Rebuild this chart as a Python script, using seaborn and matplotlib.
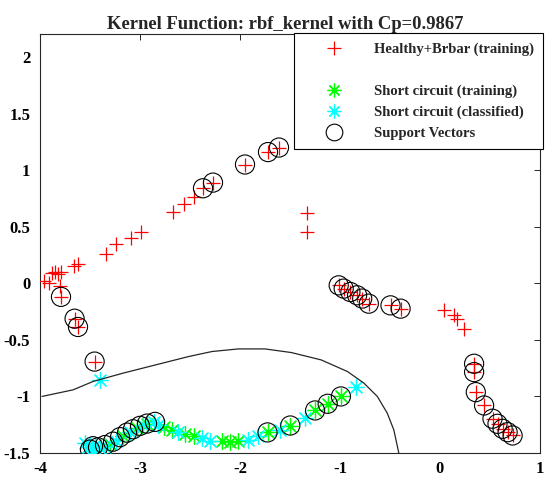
import numpy as np
import pandas as pd
import matplotlib
matplotlib.use("Agg")
import matplotlib.pyplot as plt
from matplotlib.lines import Line2D
from matplotlib.markers import MarkerStyle
import seaborn as sns

# ---------------- data ----------------
title = "Kernel Function: rbf_kernel with Cp=0.9867"
labels = ["Healthy+Brbar (training)", " ", "Short circuit (training)",
          "Short circuit (classified)", "Support Vectors"]

healthy_x = [-3.96, -3.91, -3.88, -3.85, -3.82, -3.79, -3.80, -3.66, -3.62,
             -3.34, -3.24, -3.09, -2.99, -2.67, -2.56, -2.46, -2.37, -2.27,
             -1.95, -1.72, -1.61, -1.33, -1.33,
             -3.79, -3.654, -3.62, -3.454,
             -1.013, -0.963, -0.896, -0.829, -0.778, -0.712, -0.495, -0.394,
             0.04, 0.14, 0.174, 0.24,
             0.341, 0.341, 0.358, 0.441, 0.525, 0.575, 0.626, 0.676, 0.726]
healthy_y = [0.02, 0.00, 0.09, 0.10, 0.08, 0.10, -0.02, 0.15, 0.17,
             0.26, 0.35, 0.40, 0.45, 0.63, 0.70, 0.76, 0.84, 0.89,
             1.05, 1.16, 1.20, 0.62, 0.45,
             -0.12, -0.313, -0.386, -0.692,
             -0.018, -0.047, -0.077, -0.106, -0.135, -0.18, -0.195, -0.224,
             -0.239, -0.283, -0.312, -0.40,
             -0.711, -0.785, -0.962, -1.08, -1.197, -1.242, -1.286, -1.316, -1.345]

sc_train_x = [-3.30, -3.17, -3.03, -2.93, -2.76, -2.68, -2.55, -2.46, -2.18,
              -2.10, -2.02, -1.725, -1.497, -1.249, -1.123, -0.991]
sc_train_y = [-1.42, -1.35, -1.28, -1.24, -1.27, -1.295, -1.33, -1.353, -1.397,
              -1.403, -1.39, -1.318, -1.257, -1.124, -1.065, -1.0]

sc_class_x = [-3.405, -3.55, -3.52, -3.48, -3.45, -3.40, -3.35, -3.24, -3.10,
              -2.97, -2.86, -2.82, -2.62, -2.38, -2.297, -1.917, -1.817, -1.60,
              -1.354, -0.842]
sc_class_y = [-0.853, -1.41, -1.45, -1.48, -1.43, -1.46, -1.45, -1.39, -1.31,
              -1.25, -1.23, -1.25, -1.31, -1.368, -1.397, -1.383, -1.353, -1.295,
              -1.192, -0.918]

sv_x = [-3.79, -3.654, -3.62, -3.454, -2.37, -2.27, -1.95, -1.72, -1.61,
        -1.013, -0.963, -0.896, -0.829, -0.778, -0.712, -0.495, -0.394,
        0.341, 0.341, 0.358, 0.441, 0.525, 0.575, 0.626, 0.676, 0.726,
        -0.991, -1.123, -1.249, -1.497, -1.725,
        -2.85, -2.93, -3.00, -3.07, -3.13, -3.20, -3.27, -3.35, -3.42, -3.50, -3.47]
sv_y = [-0.12, -0.313, -0.386, -0.692, 0.84, 0.89, 1.05, 1.16, 1.20,
        -0.018, -0.047, -0.077, -0.106, -0.135, -0.18, -0.195, -0.224,
        -0.711, -0.785, -0.962, -1.08, -1.197, -1.242, -1.286, -1.316, -1.345,
        -1.0, -1.065, -1.124, -1.257, -1.318,
        -1.225, -1.24, -1.26, -1.29, -1.32, -1.36, -1.40, -1.43, -1.45, -1.47, -1.44]

boundary_x = [-3.98, -3.67, -3.47, -3.173, -2.843, -2.512, -2.28, -2.016, -1.751,
              -1.487, -1.189, -0.925, -0.76, -0.627, -0.528, -0.462, -0.412]
boundary_y = [-1.0, -0.942, -0.868, -0.795, -0.721, -0.647, -0.603, -0.58, -0.58,
              -0.612, -0.677, -0.78, -0.883, -1.0, -1.147, -1.295, -1.5]

xticks = [-4, -3, -2, -1, 0, 1]
yticks = [-1.5, -1, -0.5, 0, 0.5, 1, 1.5, 2]

# ---------------- style ----------------
sns.set_style("white")
plt.rcParams['font.family'] = ['Liberation Serif', 'DejaVu Serif']
plt.rcParams['axes.unicode_minus'] = False
plt.rcParams['lines.linewidth'] = 0.8

fig = plt.figure(figsize=(5.45, 4.8), dpi=100)
ax = fig.add_axes([40 / 545, 27 / 480, 500 / 545, 418.6 / 480])

dark = "#262626"
star = MarkerStyle((8, 2, 0))
ring = MarkerStyle('o', fillstyle='none')

df_h = pd.DataFrame({"x": healthy_x, "y": healthy_y})
df_t = pd.DataFrame({"x": sc_train_x, "y": sc_train_y})
df_c = pd.DataFrame({"x": sc_class_x, "y": sc_class_y})
df_s = pd.DataFrame({"x": sv_x, "y": sv_y})
df_b = pd.DataFrame({"x": boundary_x, "y": boundary_y})

sns.scatterplot(data=df_h, x="x", y="y", marker='+', color='red', s=110,
                linewidth=0.9, ax=ax, legend=False, zorder=3)
sns.scatterplot(data=df_t, x="x", y="y", marker=star, color='#00ff00', s=125,
                linewidth=0.9, ax=ax, legend=False, zorder=3)
sns.scatterplot(data=df_c, x="x", y="y", marker=star, color='cyan', s=125,
                linewidth=0.9, ax=ax, legend=False, zorder=3)
sns.scatterplot(data=df_s, x="x", y="y", marker=ring, color='black', s=190,
                linewidth=0.8, ax=ax, legend=False, zorder=4)
sns.lineplot(data=df_b, x="x", y="y", sort=False, color=dark, linewidth=0.9,
             ax=ax, legend=False, zorder=5)

ax.set_xlim(-4, 1)
ax.set_ylim(-1.5, 2.2)
ax.set_xticks(xticks)
ax.set_yticks(yticks)
ax.set_xticklabels([f"{v:g}" for v in xticks])
ax.set_yticklabels([f"{v:g}" for v in yticks])
ax.set_xlabel("")
ax.set_ylabel("")
ax.tick_params(direction='in', length=4, width=0.7, top=True, right=True,
               colors=dark, labelsize=12, labelcolor='black')
ax.tick_params(axis='y', pad=7)
ax.tick_params(axis='x', pad=6)
for lab in ax.get_xticklabels() + ax.get_yticklabels():
    lab.set_fontweight('bold')
for sp in ax.spines.values():
    sp.set_color(dark)
    sp.set_linewidth(0.8)

ax.set_title(title, fontsize=13.4, fontweight='bold', pad=4, x=0.49)

handles = [
    Line2D([], [], ls='none', marker='+', color='red', markersize=10, mew=0.9),
    Line2D([], [], ls='none', marker=None, color='none'),
    Line2D([], [], ls='none', marker=(8, 2, 0), color='#00ff00', markersize=10, mew=0.9),
    Line2D([], [], ls='none', marker=(8, 2, 0), color='cyan', markersize=10, mew=0.9),
    Line2D([], [], ls='none', marker='o', mfc='none', mec='black', markersize=12, mew=0.8),
]
leg = ax.legend(handles, labels, loc='upper right',
                bbox_to_anchor=(543 / 545, 1 - 33 / 480),
                bbox_transform=fig.transFigure, borderaxespad=0,
                fancybox=False, framealpha=1, edgecolor='black',
                prop={'family': ['Liberation Serif'], 'weight': 'bold', 'size': 10.5},
                handlelength=4.2, handletextpad=0.6, borderpad=0.65,
                labelspacing=0.52)
leg.get_frame().set_linewidth(0.8)
leg.set_zorder(10)

fig.savefig("out.png", dpi=100)
